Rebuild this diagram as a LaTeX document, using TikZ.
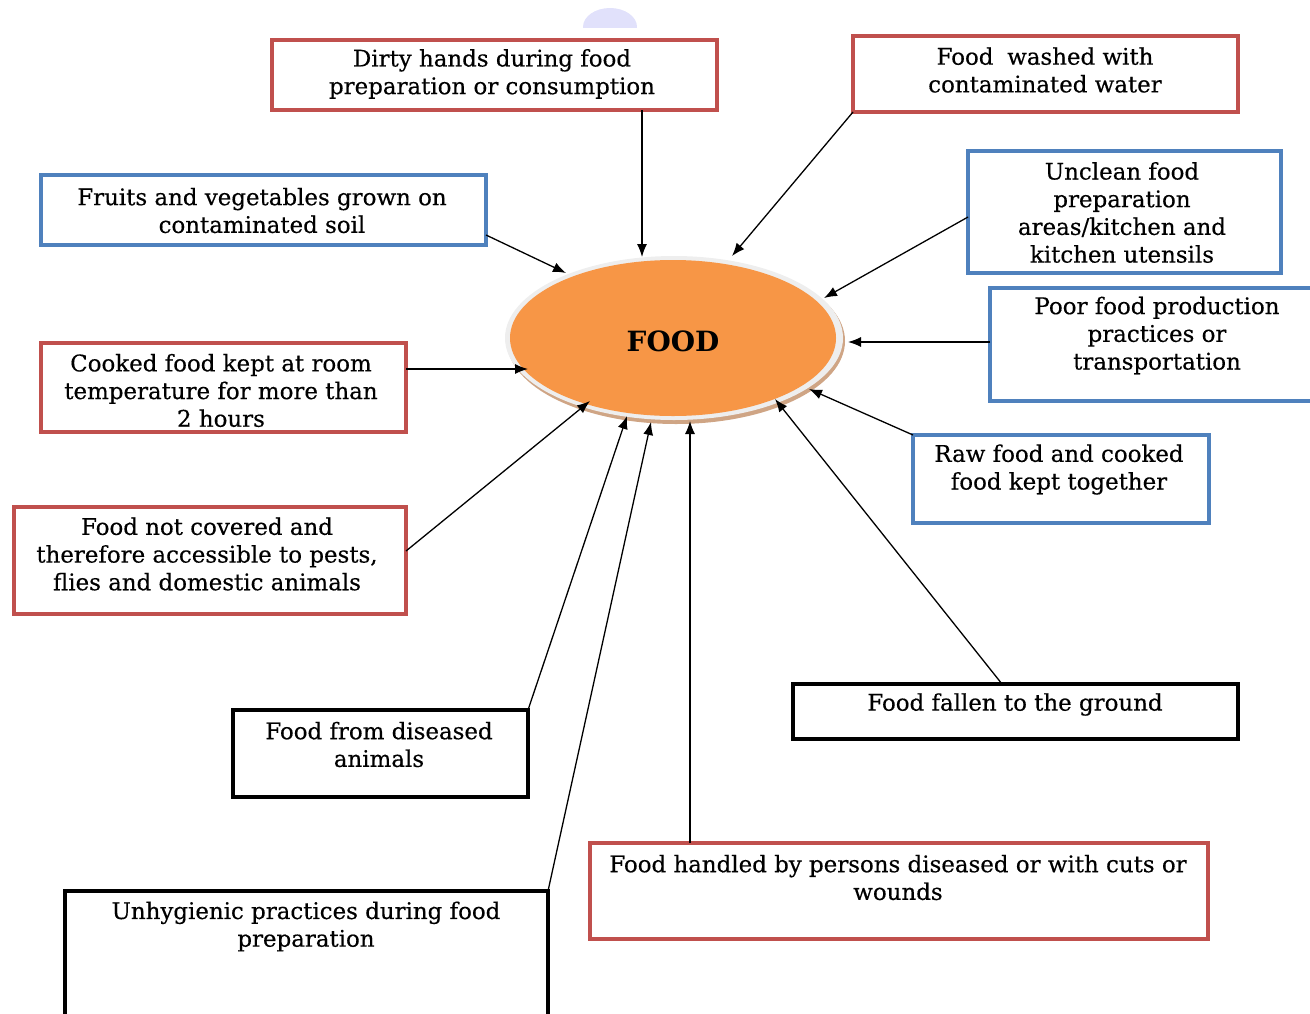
\documentclass[tikz,border=0pt]{standalone}
\usepackage{fontspec}
\setmainfont{DejaVu Serif}
\newfontfamily\lblfont[FakeBold=0.4]{DejaVu Serif}
\usetikzlibrary{shapes.geometric,arrows.meta,calc}
\definecolor{bred}{HTML}{C0504D}
\definecolor{bblue}{HTML}{4F81BD}
\definecolor{foodorange}{HTML}{F79646}
\definecolor{rimgray}{HTML}{EEEEEE}
\definecolor{shadowtan}{HTML}{CFA585}
\definecolor{lav}{HTML}{E1E1FB}
\begin{document}
\begin{tikzpicture}[x=1bp,y=-1bp,
  box/.style={rectangle, anchor=north west, inner sep=0pt, outer sep=0pt},
  redbox/.style={box, draw=bred, line width=3.5bp},
  bluebox/.style={box, draw=bblue, line width=3.5bp},
  blackbox/.style={box, draw=black, line width=4bp},
  lbl/.style={align=center, font=\lblfont\fontsize{23}{27.8}\selectfont, inner sep=0pt, yshift=-1.5bp},
  arr/.style={-{Latex[length=13bp,width=10bp]}, line width=1.3bp}
]
\useasboundingbox (0,0) rectangle (1310,1013);

% lavender half disc at top
\begin{scope}
  \clip (570,0) rectangle (650,27);
  \fill[lav] (610,27) ellipse [x radius=27, y radius=19];
\end{scope}

% central ellipse with rim and shadow
\fill[shadowtan] (676,341) ellipse [x radius=169, y radius=83];
\fill[rimgray] (674,338) ellipse [x radius=169, y radius=82];
\node[ellipse, fill=foodorange, minimum width=326bp, minimum height=156bp,
      inner sep=0pt, outer sep=0pt] (food) at (673,338) {};
\node[font=\fontsize{28}{30}\selectfont\bfseries] (foodtxt) at (673,341) {FOOD};

% boxes
\node[redbox, minimum width=445bp, minimum height=70bp] (b1) at (272,40) {};
\node[redbox, minimum width=385bp, minimum height=76bp] (b2) at (853,36) {};
\node[bluebox, minimum width=445bp, minimum height=70bp] (b3) at (41,175) {};
\node[bluebox, minimum width=313bp, minimum height=122bp] (b4) at (968,151) {};
\node[bluebox, minimum width=325bp, minimum height=113bp] (b5) at (990,288) {};
\node[redbox, minimum width=365bp, minimum height=89bp] (b6) at (41,343) {};
\node[redbox, minimum width=392bp, minimum height=107bp] (b7) at (14,507) {};
\node[bluebox, minimum width=296bp, minimum height=88bp] (b8) at (913,435) {};
\node[blackbox, minimum width=295bp, minimum height=87bp] (b9) at (233,710) {};
\node[blackbox, minimum width=445bp, minimum height=55bp] (b10) at (793,684) {};
\node[redbox, minimum width=618bp, minimum height=96bp] (b11) at (590,843) {};
\node[blackbox, minimum width=483bp, minimum height=140bp] (b12) at (65,891) {};

% texts
\node[lbl] (t1) at (492,72.5) {Dirty hands during food\\preparation or consumption};
\node[lbl] (t2) at (1045,68.5) {Food\hspace{0.6em}washed with\\contaminated water};
\node[lbl] (t3) at (262,209) {Fruits and vegetables grown on\\contaminated soil};
\node[lbl] (t4) at (1122,211) {Unclean food\\preparation\\areas/kitchen and\\kitchen utensils};
\node[lbl] (t5) at (1157,334) {Poor food production\\practices or\\transportation};
\node[lbl] (t6) at (221,389) {Cooked food kept at room\\temperature for more than\\2 hours};
\node[lbl] (t7) at (207,552.5) {Food not covered and\\therefore accessible to pests,\\flies and domestic animals};
\node[lbl] (t8) at (1059,468) {Raw food and cooked\\food kept together};
\node[lbl] (t9) at (379,743) {Food from diseased\\animals};
\node[lbl] (t10) at (1015,703) {Food fallen to the ground};
\node[lbl] (t11) at (898,876) {Food handled by persons diseased or with cuts or\\wounds};
\node[lbl] (t12) at (306,925) {Unhygienic practices during food\\preparation};

% connectors
\draw[arr] (b1.south -| 642,0) -- ($(food)+(-31,-81)$);
\draw[arr] (b2.south west) -- ($(food)+(59,-82)$);
\draw[arr] (b3.east |- 0,235) -- ($(food)+(-107,-65)$);
\draw[arr] (b4.west |- 0,217) -- ($(food)+(151,-40)$);
\draw[arr] (b5.west |- 0,342) -- ($(food)+(175,4)$);
\draw[arr] (b6.east |- 0,369) -- ($(food)+(-145,31)$);
\draw[arr] (b7.east |- 0,551) -- ($(food)+(-83,63)$);
\draw[arr] (b8.north west) -- ($(food)+(136,51)$);
\draw[arr] (b9.north east) -- ($(food)+(-46,78)$);
\draw[arr] (b12.north east) -- ($(food)+(-22,84)$);
\draw[arr] (b11.north -| 690,0) -- ($(food)+(17,83)$);
\draw[arr] (b10.north -| 1002,0) -- ($(food)+(102,61)$);
\end{tikzpicture}
\end{document}
